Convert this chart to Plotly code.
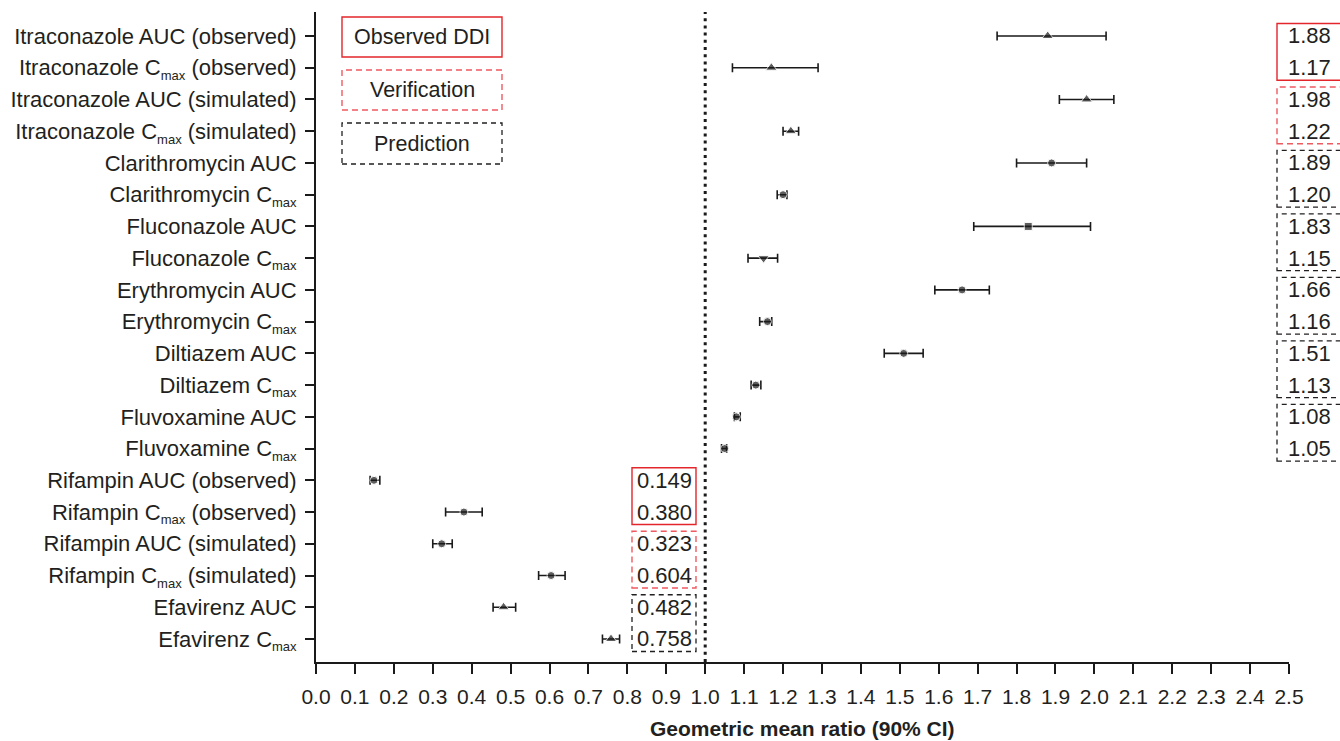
import plotly.graph_objects as go

# ---------------- data ----------------
SUB = "C<sub><span style='font-size:13px'>max</span></sub>"
labels = [
    "Itraconazole AUC (observed)",
    f"Itraconazole {SUB} (observed)",
    "Itraconazole AUC (simulated)",
    f"Itraconazole {SUB} (simulated)",
    "Clarithromycin AUC",
    f"Clarithromycin {SUB}",
    "Fluconazole AUC",
    f"Fluconazole {SUB}",
    "Erythromycin AUC",
    f"Erythromycin {SUB}",
    "Diltiazem AUC",
    f"Diltiazem {SUB}",
    "Fluvoxamine AUC",
    f"Fluvoxamine {SUB}",
    "Rifampin AUC (observed)",
    f"Rifampin {SUB} (observed)",
    "Rifampin AUC (simulated)",
    f"Rifampin {SUB} (simulated)",
    "Efavirenz AUC",
    f"Efavirenz {SUB}",
]
gmr = [1.88, 1.17, 1.98, 1.22, 1.89, 1.20, 1.83, 1.15, 1.66, 1.16,
       1.51, 1.13, 1.08, 1.05, 0.149, 0.380, 0.323, 0.604, 0.482, 0.758]
ci_low = [1.75, 1.07, 1.91, 1.20, 1.80, 1.185, 1.69, 1.11, 1.59, 1.14,
          1.46, 1.118, 1.075, 1.042, 0.139, 0.333, 0.300, 0.572, 0.455, 0.736]
ci_high = [2.03, 1.29, 2.05, 1.24, 1.98, 1.21, 1.99, 1.186, 1.73, 1.171,
           1.56, 1.143, 1.09, 1.055, 0.164, 0.427, 0.350, 0.640, 0.513, 0.780]
value_text = ["1.88", "1.17", "1.98", "1.22", "1.89", "1.20", "1.83", "1.15",
              "1.66", "1.16", "1.51", "1.13", "1.08", "1.05",
              "0.149", "0.380", "0.323", "0.604", "0.482", "0.758"]
marker_symbols = ["triangle-up"] * 4 + ["circle", "circle", "square", "triangle-down"] + \
                 ["circle"] * 10 + ["triangle-up"] * 2
# (first row, last row, category) of each boxed pair of values
groups = [(0, 1, "obs"), (2, 3, "ver"), (4, 5, "pred"), (6, 7, "pred"), (8, 9, "pred"),
          (10, 11, "pred"), (12, 13, "pred"), (14, 15, "obs"), (16, 17, "ver"), (18, 19, "pred")]
legend_items = [("Observed DDI", "obs"), ("Verification", "ver"), ("Prediction", "pred")]
reference_ratio = 1.0

# ---------------- layout constants ----------------
W, H = 1340, 741
L, R, T, B = 316, 51, 12, 79
PW, PH = W - L - R, H - T - B
Y_RANGE = [19.725, -0.756]
FONT = "Liberation Sans, Arial, Helvetica, sans-serif"
TXT = "#231f20"
STYLE = {
    "obs": dict(color="#e3262c", width=1.4, dash="solid"),
    "ver": dict(color="#ee5a60", width=1.4, dash="6px,4px"),
    "pred": dict(color="#231f20", width=1.3, dash="5px,4px"),
}


def px_x(px):
    return (px - L) / PW


def px_y(py):
    return (H - B - py) / PH


def row_px(r):
    return T + (r - Y_RANGE[1]) / (Y_RANGE[0] - Y_RANGE[1]) * PH


rows = list(range(len(labels)))

fig = go.Figure()
fig.add_trace(go.Scatter(
    x=gmr, y=rows, mode="markers",
    marker=dict(symbol=marker_symbols, color="#1a1a1a",
                size=[10 if s.startswith("triangle") else 8 for s in marker_symbols]),
    error_x=dict(type="data", symmetric=False,
                 array=[h - g for h, g in zip(ci_high, gmr)],
                 arrayminus=[g - l for g, l in zip(gmr, ci_low)],
                 color="#1a1a1a", thickness=1.6, width=4.5),
    showlegend=False, hoverinfo="skip", cliponaxis=False,
))

shapes = []
annotations = []

# reference dotted line
shapes.append(dict(type="line", xref="x", yref="paper", x0=reference_ratio, x1=reference_ratio,
                   y0=0, y1=1, line=dict(color="#1a1a1a", width=3, dash="3px,4.2px"), layer="below"))

# value boxes and value texts
PAD = 12.5
for r0, r1, cat in groups:
    y_top = row_px(r0) - PAD
    y_bot = row_px(r1) + PAD
    if gmr[r0] >= reference_ratio:
        x0p, x1p, xc = 1277, 1348, 1309
    else:
        x0p, x1p, xc = 632, 696, 664
    shapes.append(dict(type="rect", xref="paper", yref="paper",
                       x0=px_x(x0p), x1=px_x(x1p), y0=px_y(y_bot), y1=px_y(y_top),
                       line=STYLE[cat], fillcolor="rgba(0,0,0,0)"))
    for r in range(r0, r1 + 1):
        annotations.append(dict(xref="paper", yref="paper", x=px_x(xc), y=px_y(row_px(r)),
                                text=value_text[r], showarrow=False, xanchor="center",
                                yanchor="middle", font=dict(family=FONT, size=22, color=TXT)))

# legend boxes
legend_boxes = [(17, 57), (70, 110), (123, 164)]
for (name, cat), (yt, yb) in zip(legend_items, legend_boxes):
    shapes.append(dict(type="rect", xref="paper", yref="paper",
                       x0=px_x(342), x1=px_x(502), y0=px_y(yb), y1=px_y(yt),
                       line=STYLE[cat], fillcolor="rgba(0,0,0,0)"))
    annotations.append(dict(xref="paper", yref="paper", x=px_x(422), y=px_y((yt + yb) / 2),
                            text=name, showarrow=False, xanchor="center", yanchor="middle",
                            font=dict(family=FONT, size=21.5, color=TXT)))

# x-axis title
annotations.append(dict(xref="paper", yref="paper", x=0.5, y=px_y(728),
                        text="<b>Geometric mean ratio (90% CI)</b>", showarrow=False,
                        xanchor="center", yanchor="middle", borderpad=0,
                        font=dict(family=FONT, size=21, color=TXT)))

fig.update_layout(
    width=W, height=H,
    margin=dict(l=L, r=R, t=T, b=B, autoexpand=False),
    plot_bgcolor="white", paper_bgcolor="white",
    font=dict(family=FONT, color=TXT),
    shapes=shapes, annotations=annotations,
    xaxis=dict(range=[0, 2.5], tick0=0, dtick=0.1, tickformat=".1f",
               showline=True, linewidth=2, linecolor="#1a1a1a",
               ticks="outside", ticklen=10, tickwidth=1.5, tickcolor="#1a1a1a",
               showgrid=False, zeroline=False, ticklabelstandoff=5,
               tickfont=dict(family=FONT, size=21, color=TXT), fixedrange=True),
    yaxis=dict(range=Y_RANGE, tickmode="array", tickvals=rows, ticktext=labels,
               showline=True, linewidth=2, linecolor="#1a1a1a",
               ticks="outside", ticklen=9, tickwidth=1.5, tickcolor="#1a1a1a",
               showgrid=False, zeroline=False, ticklabelstandoff=4,
               tickfont=dict(family=FONT, size=22, color=TXT), fixedrange=True),
)

fig.write_html(
    "out.html",
    config={"displayModeBar": False},
    post_script="document.body.style.margin='0';document.body.style.padding='0';"
                "document.documentElement.style.overflow='hidden';",
)
